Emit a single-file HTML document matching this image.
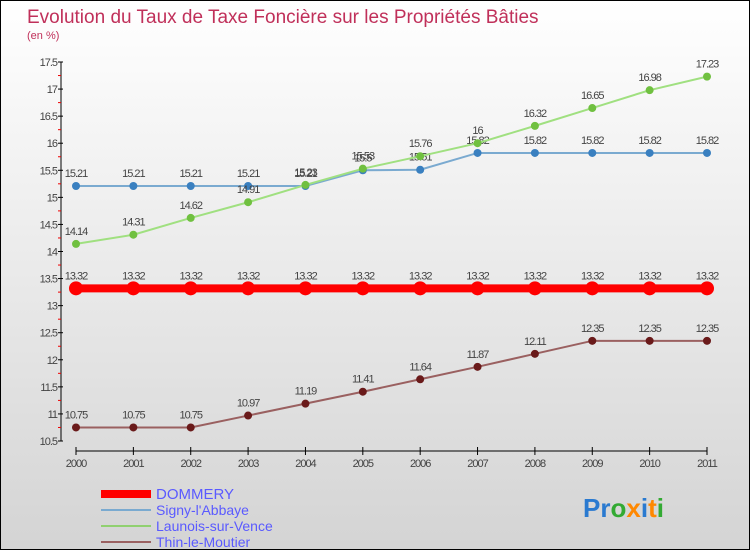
<!DOCTYPE html>
<html><head><meta charset="utf-8"><style>
body{margin:0}
#c{width:748px;height:548px;border:1px solid #000;background:linear-gradient(#fff,#d4d4d4);position:relative;font-family:"Liberation Sans",sans-serif;overflow:hidden}
</style></head><body>
<div id="c">
<svg id="s" width="748" height="548" xmlns="http://www.w3.org/2000/svg">
<text x="26" y="22" font-size="19" fill="#c0305a">Evolution du Taux de Taxe Foncière sur les Propriétés Bâties</text>
<text x="26" y="38" font-size="11" fill="#c0305a">(en %)</text>
<g id="g"></g>
<g>
<rect x="100" y="489" width="50" height="8" fill="#f00"/>
<text x="155" y="498" font-size="15" fill="#5a5aff">DOMMERY</text>
<line x1="100" y1="509" x2="150" y2="509" stroke="#7aaad0" stroke-width="2"/>
<text x="155" y="514" font-size="14" fill="#5a5aff">Signy-l'Abbaye</text>
<line x1="100" y1="525" x2="150" y2="525" stroke="#90d070" stroke-width="2"/>
<text x="155" y="530" font-size="14" fill="#5a5aff">Launois-sur-Vence</text>
<line x1="100" y1="541" x2="150" y2="541" stroke="#9a6060" stroke-width="2"/>
<text x="155" y="546" font-size="14" fill="#5a5aff">Thin-le-Moutier</text>
</g>
<text x="582" y="516" font-size="26" font-weight="bold"><tspan fill="#2a7ad0">Pr</tspan><tspan fill="#3a3">o</tspan><tspan fill="#f80">x</tspan><tspan fill="#2a7ad0">i</tspan><tspan fill="#f80">t</tspan><tspan fill="#3a3">i</tspan></text>
</svg></div>
<script>
const years=[2000,2001,2002,2003,2004,2005,2006,2007,2008,2009,2010,2011];
const dommery=[13.32,13.32,13.32,13.32,13.32,13.32,13.32,13.32,13.32,13.32,13.32,13.32];
const signy=[15.21,15.21,15.21,15.21,15.21,15.5,15.51,15.82,15.82,15.82,15.82,15.82];
const launois=[14.14,14.31,14.62,14.91,15.23,15.53,15.76,16,16.32,16.65,16.98,17.23];
const thin=[10.75,10.75,10.75,10.97,11.19,11.41,11.64,11.87,12.11,12.35,12.35,12.35];
const yTicks=[10.5,11,11.5,12,12.5,13,13.5,14,14.5,15,15.5,16,16.5,17,17.5];
const NS="http://www.w3.org/2000/svg",g=document.getElementById('g');
const X=i=>75+i*(631/11), Y=v=>440-(v-10.5)*(379/7);
function el(t,a){const e=document.createElementNS(NS,t);for(const k in a)e.setAttribute(k,a[k]);g.appendChild(e);return e;}
let e=el('line',{x1:60,y1:61,x2:60,y2:440,stroke:'#000'});


e=el('line',{x1:75,y1:450,x2:706,y2:450,stroke:'#000'});


yTicks.forEach(v=>{
 el('line',{x1:57,y1:Y(v),x2:62,y2:Y(v),stroke:'#000'});
 if(v<17.5)el('line',{x1:57,y1:Y(v+0.25),x2:60,y2:Y(v+0.25),stroke:'#e00'});
 const t=el('text',{x:56,y:Y(v)+4,'font-size':11,fill:'#444','text-anchor':'end','letter-spacing':'-1'});t.textContent=v;
 
 
});
years.forEach((y,i)=>{
 el('line',{x1:X(i),y1:446,x2:X(i),y2:454,stroke:'#000'});
 const t=el('text',{x:X(i),y:466,'font-size':11,fill:'#444','text-anchor':'middle','letter-spacing':'-1'});t.textContent=y;
 
 
});
function series(d,name,col,dot,w,r){
 const p=el('polyline',{points:d.map((v,i)=>X(i)+','+Y(v)).join(' '),fill:'none',stroke:col,'stroke-width':w});
 
 
 d.forEach((v,i)=>{
  const c=el('circle',{cx:X(i),cy:Y(v),r:r,fill:dot});
  
  
  const t=el('text',{x:X(i),y:Y(v)-9,'font-size':11,fill:'#444','text-anchor':'middle','letter-spacing':'-1'});t.textContent=v;
  
  
 });
}
series(thin,'thin-le-moutier','#9a6060','#6a1a1a',2,4);
series(signy,'signy-l-abbaye','#7aaad0','#3a80c0',2,4);
series(launois,'launois-sur-vence','#a0e080','#70c040',2,4);
series(dommery,'dommery','#f00','#f00',8,7);
</script>
</body></html>
